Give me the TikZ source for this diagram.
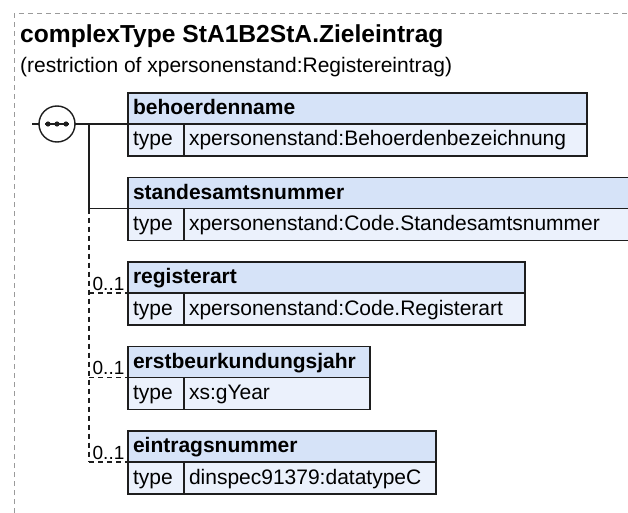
\documentclass[tikz,border=0pt]{standalone}
\usepackage{fontspec}
\setmainfont{Liberation Sans}
\usetikzlibrary{positioning}
\definecolor{xsdLine}{HTML}{1E1E1E}
\definecolor{xsdHead}{HTML}{D6E3F8}
\definecolor{xsdType}{HTML}{EBF1FC}
\definecolor{xsdFrame}{HTML}{9A9A9A}
\tikzset{
  elemhead/.style={rectangle,draw=xsdLine,fill=xsdHead,line width=1.4pt,outer sep=0pt,
    minimum height=31pt,inner xsep=5pt,inner ysep=0pt,text width=#1,align=left,
    text height=16pt,text depth=4pt,font=\fontsize{21}{24}\selectfont\bfseries},
  typekey/.style={rectangle,draw=xsdLine,fill=xsdType,line width=1.4pt,outer sep=0pt,
    minimum height=32pt,inner xsep=5pt,inner ysep=0pt,text width=46pt,align=left,
    text height=16pt,text depth=4pt,font=\fontsize{21}{24}\selectfont},
  typeval/.style={typekey,text width=#1},
  seqsym/.style={circle,draw=xsdLine,fill=white,line width=1.4pt,outer sep=0pt,
    minimum size=36pt,inner sep=0pt},
  conn/.style={draw=xsdLine,line width=1.4pt},
  optconn/.style={conn,dash pattern=on 5pt off 4pt},
  mult/.style={above,inner sep=2pt,font=\fontsize{19}{22}\selectfont},
  frame/.style={draw=xsdFrame,line width=1pt,dash pattern=on 5pt off 4pt}
}

\begin{document}
\begin{tikzpicture}[x=1pt,y=-1pt]
  \useasboundingbox (0,0) rectangle (628,513);
  \draw[frame] (14,513) -- (14,14) -- (628,14);
  \node[anchor=base west,inner sep=0pt,font=\fontsize{24.6}{28}\selectfont\bfseries] (title) at (20,43) {complexType StA1B2StA.Zieleintrag};
  \node[anchor=base west,inner sep=0pt,font=\fontsize{21}{24}\selectfont] (restr) at (20,73) {(restriction of xpersonenstand:Registereintrag)};
  % elements
  \node[elemhead=449pt,anchor=north west] (hd1) at (128,93) {behoerdenname};
  \node[typekey,below right=0pt and 0pt of hd1.south west] (tk1) {type};
  \node[typeval=393pt,right=0pt of tk1] (tv1) {xpersonenstand:Behoerdenbezeichnung};
  \node[elemhead=494pt,below right=21.5pt and 0pt of tk1.south west] (hd2) {standesamtsnummer};
  \node[typekey,below right=0pt and 0pt of hd2.south west] (tk2) {type};
  \node[typeval=438pt,right=0pt of tk2] (tv2) {xpersonenstand:Code.Standesamtsnummer};
  \node[elemhead=387pt,below right=21.5pt and 0pt of tk2.south west] (hd3) {registerart};
  \node[typekey,below right=0pt and 0pt of hd3.south west] (tk3) {type};
  \node[typeval=331pt,right=0pt of tk3] (tv3) {xpersonenstand:Code.Registerart};
  \node[elemhead=232pt,below right=21.5pt and 0pt of tk3.south west] (hd4) {erstbeurkundungsjahr};
  \node[typekey,below right=0pt and 0pt of hd4.south west] (tk4) {type};
  \node[typeval=176pt,right=0pt of tk4] (tv4) {xs:gYear};
  \node[elemhead=298pt,below right=21.5pt and 0pt of tk4.south west] (hd5) {eintragsnummer};
  \node[typekey,below right=0pt and 0pt of hd5.south west] (tk5) {type};
  \node[typeval=242pt,right=0pt of tk5] (tv5) {dinspec91379:datatypeC};
  % sequence
  \node[seqsym,left=53pt of hd1.south west] (seq) {};
  \coordinate[left=7pt of seq] (in);
  \coordinate[left=39pt of hd1.south west] (spine);
  \foreach \dx in {-9,0,9}
    \fill[xsdLine] ([xshift=\dx pt]seq.center) circle (2.6pt);
  \draw[conn] ([xshift=-12pt]seq.center) -- ([xshift=12pt]seq.center);
  \draw[conn] (in) -- (seq);
  \draw[conn] (seq) -- (hd1.south west);
  \draw[conn] (spine) |- (hd2.south west);
  \draw[optconn] (spine |- hd2.south west) -- (spine |- hd5.south west);
  \foreach \i in {3,4,5}
    \draw[optconn] (spine |- hd\i.south west) -- node[mult] {0..1} (hd\i.south west);
\end{tikzpicture}
\end{document}
